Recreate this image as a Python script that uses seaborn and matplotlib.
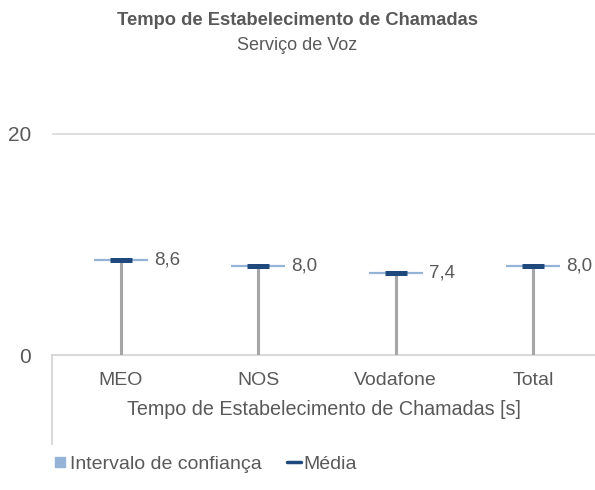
import pandas as pd
import matplotlib.pyplot as plt
import seaborn as sns
from matplotlib.lines import Line2D

# values
operators = ['MEO', 'NOS', 'Vodafone', 'Total']
means = [8.6, 8.0, 7.4, 8.0]
mean_labels = ['8,6', '8,0', '7,4', '8,0']

TEXT = '#595959'
CI_BLUE = '#95B3D7'
MEAN_BLUE = '#1F497D'
STEM = '#A6A6A6'
GRID = '#D9D9D9'


def make_plot():
    sns.set_theme(style='white')
    plt.rcParams['font.family'] = ['Liberation Sans', 'DejaVu Sans']

    df = pd.DataFrame({'Operador': operators, 'Media': means})

    fig = plt.figure(figsize=(5.95, 4.9), dpi=100)
    ax = fig.add_axes([52 / 595, 135 / 490, 543 / 595, 222 / 490])

    # stems from 0 up to the mean
    pos = list(range(len(operators)))
    ax.vlines(pos, 0, df['Media'], color=STEM, linewidth=2.2, zorder=1)

    # confidence interval (very narrow) and mean markers
    sns.scatterplot(data=df, x='Operador', y='Media', marker='_', s=39 ** 2,
                    linewidth=1.6, color=CI_BLUE, ax=ax, zorder=2, legend=False)
    sns.scatterplot(data=df, x='Operador', y='Media', marker='_', s=16 ** 2,
                    linewidth=3.6, color=MEAN_BLUE, ax=ax, zorder=3, legend=False)

    for i, (v, lab) in enumerate(zip(means, mean_labels)):
        ax.annotate(lab, (i, v), xytext=(24, 0), textcoords='offset points',
                    ha='left', va='center', fontsize=13.5, color=TEXT)

    ax.set_xlim(-0.5, 3.45)
    ax.set_ylim(0, 20.05)
    ax.set_yticks([0, 20])
    ax.set_yticklabels(['0', '20'])
    ax.axhline(20, color=GRID, linewidth=1.2, zorder=0)
    ax.axhline(0, color=GRID, linewidth=1.5, zorder=0, clip_on=False)

    for s in ax.spines.values():
        s.set_visible(False)
    # category-axis left border that goes down past the labels
    ax.plot([-0.5, -0.5], [0, -0.40 * 20.05], color=GRID, linewidth=1.5,
            clip_on=False, zorder=0)

    ax.tick_params(axis='x', length=0, labelsize=14, labelcolor=TEXT, pad=12)
    ax.tick_params(axis='y', length=0, labelsize=15, labelcolor=TEXT, pad=15)
    ax.set_xlabel('Tempo de Estabelecimento de Chamadas [s]', fontsize=14.2,
                  color=TEXT, labelpad=8)
    ax.set_ylabel('')

    fig.text(0.5, 0.958, 'Tempo de Estabelecimento de Chamadas', ha='center',
             va='center', fontsize=13.2, fontweight='bold', color=TEXT)
    fig.text(0.5, 0.907, 'Serviço de Voz', ha='center', va='center',
             fontsize=13, color=TEXT)

    handles = [
        Line2D([], [], marker='s', linestyle='none', markersize=7.5,
               color=CI_BLUE),
        Line2D([], [], color=MEAN_BLUE, linewidth=2.5),
    ]
    fig.legend(handles, ['Intervalo de confiança', 'Média'], loc='lower left',
               bbox_to_anchor=(0.06, 0.0), ncol=2, frameon=False,
               fontsize=14, labelcolor=TEXT, handlelength=0.75,
               handletextpad=0.1, columnspacing=1.3)

    fig.savefig('out.png', dpi=100)


if __name__ == '__main__':
    make_plot()
